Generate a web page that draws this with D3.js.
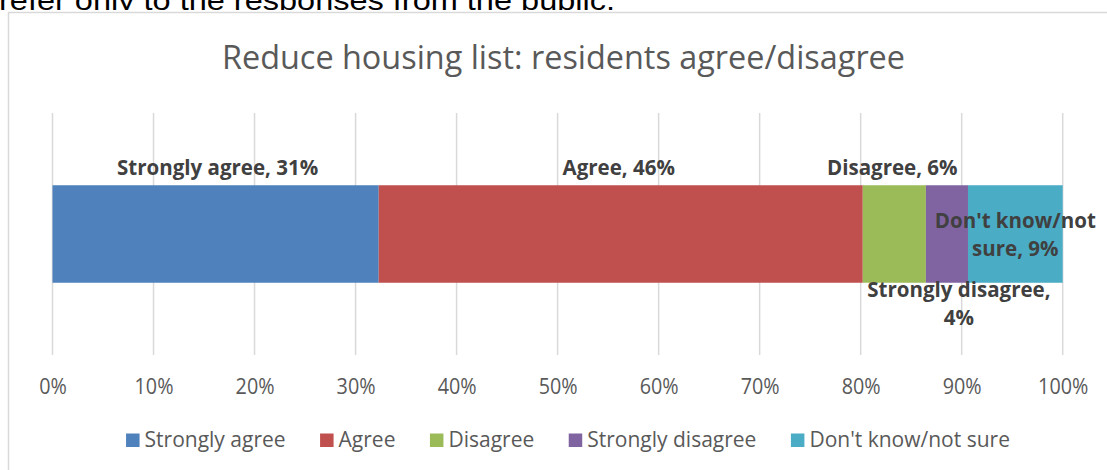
<!DOCTYPE html>
<html>
<head>
<meta charset="utf-8">
<script src="https://cdn.jsdelivr.net/npm/d3@7"></script>
<style>
  html, body { margin: 0; padding: 0; background: #fff; overflow: hidden; }
  svg { display: block; }
</style>
</head>
<body>
<svg id="chart" width="1107" height="470"></svg>
<script>
// Survey responses, as counts that stack to 100% along one bar
const categories = ["Strongly agree", "Agree", "Disagree", "Strongly disagree", "Don't know/not sure"];
const values = [31, 46, 6, 4, 9];
const palette = ["#4F81BD", "#C0504D", "#9BBB59", "#8064A2", "#4BACC6"];
const tickValues = [0, 10, 20, 30, 40, 50, 60, 70, 80, 90, 100];
const title = "Reduce housing list: residents agree/disagree";
const pageLine = "refer only to the responses from the public.";

const svg = d3.select("#chart");
const W = 1107, H = 470;
const FONT = "'Open Sans', 'Noto Sans', sans-serif";

// Condense (or stretch) a text element horizontally by a factor of its natural width
function squeeze(sel, factor) {
  sel.each(function () {
    const len = this.getComputedTextLength();
    d3.select(this).attr("textLength", len * factor).attr("lengthAdjust", "spacingAndGlyphs");
  });
  return sel;
}

// Line of the surrounding document, cut off by the top edge
svg.append("text")
  .attr("x", -1).attr("y", 9.5)
  .attr("font-family", "'Liberation Sans', Arial, sans-serif")
  .attr("font-size", 27)
  .attr("fill", "#000")
  .text(pageLine)
  .attr("textLength", 616).attr("lengthAdjust", "spacingAndGlyphs");

// Chart sheet with its frame (covers the document line's descenders)
svg.append("rect")
  .attr("x", 0).attr("y", 10).attr("width", W).attr("height", H)
  .attr("fill", "#fff");
svg.append("rect")
  .attr("x", 8.5).attr("y", 12.5)
  .attr("width", W + 20).attr("height", H + 20)
  .attr("fill", "#fff").attr("stroke", "#d9d9d9").attr("stroke-width", 1.5);

// Title
svg.append("text")
  .attr("x", 563.5).attr("y", 69)
  .attr("text-anchor", "middle")
  .attr("font-family", FONT).attr("font-size", 32)
  .attr("fill", "#595959")
  .text(title)
  .attr("textLength", 683).attr("lengthAdjust", "spacingAndGlyphs");

// Scales
const total = d3.sum(values);
const x = d3.scaleLinear().domain([0, 100]).range([52.5, 1062.7]);
const plotTop = 113, plotBottom = 355;
const y = d3.scaleBand().domain(["resp"]).range([plotTop, plotBottom]).paddingInner(0).paddingOuter(0.741);

// Stack shares (percent of total)
const stack = [];
let acc = 0;
values.forEach((v, i) => {
  const share = v / total * 100;
  stack.push({ cat: categories[i], value: v, x0: acc, x1: acc + share, color: palette[i] });
  acc += share;
});

// Vertical gridlines
const grid = svg.append("g");
grid.selectAll("line").data(tickValues).join("line")
  .attr("x1", d => x(d)).attr("x2", d => x(d))
  .attr("y1", plotTop).attr("y2", plotBottom)
  .attr("stroke", "#d9d9d9").attr("stroke-width", 1.5);

// Axis tick labels
const axis = d3.axisBottom(x).tickValues(tickValues).tickFormat(d => d + "%").tickSize(0).tickPadding(0);
const axisG = svg.append("g").attr("transform", `translate(0, ${plotBottom})`).call(axis);
axisG.select(".domain").remove();
axisG.selectAll("text")
  .attr("dy", null).attr("y", 39)
  .attr("font-family", FONT).attr("font-size", 21)
  .attr("fill", "#595959");
squeeze(axisG.selectAll("text"), 0.94);

// Bar segments
const band = y("resp"), bh = y.bandwidth();
svg.append("g").selectAll("rect").data(stack).join("rect")
  .attr("x", d => x(d.x0))
  .attr("y", band)
  .attr("width", d => x(d.x1) - x(d.x0))
  .attr("height", bh)
  .attr("fill", d => d.color);

// Data labels: where each one sits relative to its segment
const labelPlacement = [
  { pos: "above", lines: 1, dx: 2 },
  { pos: "above", lines: 1, dx: -2 },
  { pos: "above", lines: 1, dx: -2 },
  { pos: "below", lines: 2, dx: 12 },
  { pos: "inside", lines: 2, dx: 0 }
];
const lineH = 28;
const labels = svg.append("g")
  .attr("font-family", FONT).attr("font-size", 20.5).attr("font-weight", 700)
  .attr("fill", "#404040").attr("text-anchor", "middle");

stack.forEach((d, i) => {
  const p = labelPlacement[i];
  const full = `${d.cat}, ${d.value}%`;
  let lines;
  if (p.lines === 1) lines = [full];
  else if (d.cat === "Strongly disagree") lines = [`${d.cat},`, `${d.value}%`];
  else {
    const words = d.cat.split(" ");
    lines = [words.slice(0, 2).join(" "), `${words.slice(2).join(" ")}, ${d.value}%`];
  }
  const cx = x((d.x0 + d.x1) / 2) + p.dx;
  let firstBase;
  if (p.pos === "above") firstBase = band - 10;
  else if (p.pos === "below") firstBase = band + bh + 14.5;
  else firstBase = band + bh / 2 - 6.5;
  const t = labels.append("text");
  lines.forEach((ln, k) => {
    t.append("tspan").attr("x", cx).attr("y", firstBase + k * lineH).text(ln);
  });
});

// Legend
const legend = svg.append("g").attr("font-family", FONT).attr("font-size", 21).attr("fill", "#595959");
const sq = 13.5, gapSq = 5, gapItem = 34.5, legBase = 447;
const items = legend.selectAll("g").data(categories).join("g");
items.append("rect").attr("width", sq).attr("height", sq).attr("y", legBase - sq)
  .attr("fill", (d, i) => palette[i]);
items.append("text").attr("x", sq + gapSq).attr("y", legBase).text(d => d);
// Lay items out in a centred row
const widths = [];
items.each(function () {
  widths.push(sq + gapSq + d3.select(this).select("text").node().getComputedTextLength());
});
const totalW = d3.sum(widths) + gapItem * (widths.length - 1);
let cur = 568 - totalW / 2;
items.attr("transform", (d, i) => {
  const tx = cur;
  cur += widths[i] + gapItem;
  return `translate(${tx}, 0)`;
});
</script>
</body>
</html>
